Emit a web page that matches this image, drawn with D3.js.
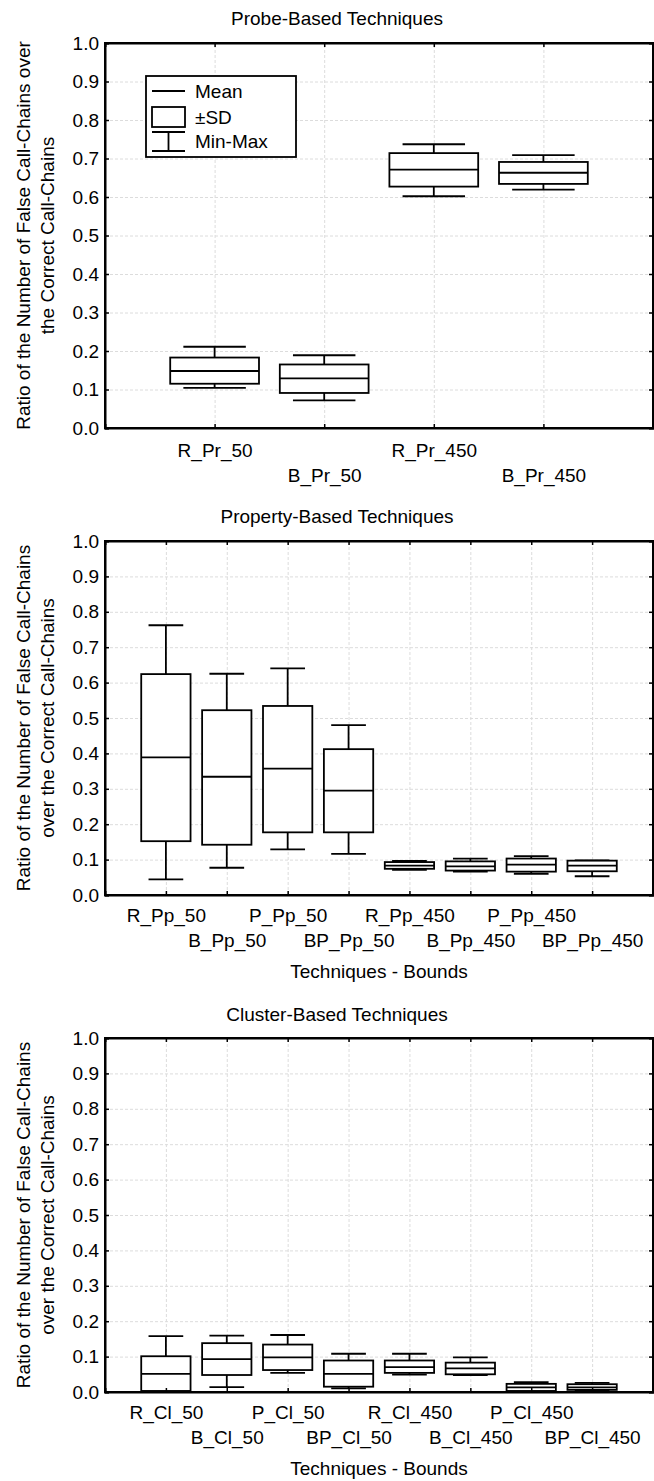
<!DOCTYPE html>
<html>
<head>
<meta charset="utf-8">
<script src="https://cdn.jsdelivr.net/npm/d3@7"></script>
<style>
  html, body { margin: 0; padding: 0; background: #fff; }
  svg text { font-family: "Liberation Sans", Arial, sans-serif; fill: #000; }
</style>
</head>
<body>
<svg id="chart" width="654" height="1481"></svg>
<script>
// ---------- data ----------
const yTickValues = [0, 0.1, 0.2, 0.3, 0.4, 0.5, 0.6, 0.7, 0.8, 0.9, 1.0];
const yTickLabels = ["0.0","0.1","0.2","0.3","0.4","0.5","0.6","0.7","0.8","0.9","1.0"];

const probeCats  = ["R_Pr_50", "B_Pr_50", "R_Pr_450", "B_Pr_450"];
const probeMean  = [0.148, 0.129, 0.671, 0.663];
const probeSdLo  = [0.115, 0.091, 0.627, 0.634];
const probeSdHi  = [0.183, 0.165, 0.714, 0.691];
const probeMin   = [0.104, 0.072, 0.602, 0.619];
const probeMax   = [0.211, 0.189, 0.737, 0.709];

const propCats = ["R_Pp_50", "B_Pp_50", "P_Pp_50", "BP_Pp_50", "R_Pp_450", "B_Pp_450", "P_Pp_450", "BP_Pp_450"];
const propMean = [0.389, 0.334, 0.357, 0.295, 0.083, 0.081, 0.086, 0.083];
const propSdLo = [0.152, 0.142, 0.177, 0.177, 0.074, 0.069, 0.066, 0.067];
const propSdHi = [0.624, 0.522, 0.534, 0.412, 0.093, 0.095, 0.103, 0.097];
const propMin  = [0.044, 0.077, 0.129, 0.116, 0.071, 0.066, 0.060, 0.053];
const propMax  = [0.762, 0.625, 0.640, 0.480, 0.096, 0.103, 0.110, 0.098];

const clusCats = ["R_Cl_50", "B_Cl_50", "P_Cl_50", "BP_Cl_50", "R_Cl_450", "B_Cl_450", "P_Cl_450", "BP_Cl_450"];
const clusMean = [0.051, 0.093, 0.098, 0.051, 0.070, 0.067, 0.013, 0.013];
const clusSdLo = [0.003, 0.048, 0.062, 0.015, 0.054, 0.050, 0.003, 0.006];
const clusSdHi = [0.101, 0.138, 0.134, 0.089, 0.089, 0.083, 0.023, 0.022];
const clusMin  = [0.001, 0.014, 0.054, 0.010, 0.049, 0.048, 0.002, 0.004];
const clusMax  = [0.158, 0.159, 0.161, 0.108, 0.108, 0.098, 0.028, 0.026];

const panelTitles = ["Probe-Based Techniques", "Property-Based Techniques", "Cluster-Based Techniques"];
const yTitles = [
  ["Ratio of the Number of False Call-Chains over", "the Correct Call-Chains"],
  ["Ratio of the Number of False Call-Chains", "over the Correct Call-Chains"],
  ["Ratio of the Number of False Call-Chains", "over the Correct Call-Chains"]
];
const xTitle = "Techniques - Bounds";
const legendLabels = ["Mean", "\u00B1SD", "Min-Max"];

// ---------- layout ----------
const FONT = 19;
const plotLeft = 105, plotRight = 653;
const panels = [
  { cats: probeCats, mean: probeMean, lo: probeSdLo, hi: probeSdHi, mn: probeMin, mx: probeMax,
    top: 43, bottom: 428, titleY: 25, row1: 457, row2: 482, xTitleY: null, legend: true },
  { cats: propCats, mean: propMean, lo: propSdLo, hi: propSdHi, mn: propMin, mx: propMax,
    top: 541, bottom: 895, titleY: 523, row1: 922, row2: 947, xTitleY: 978, legend: false },
  { cats: clusCats, mean: clusMean, lo: clusSdLo, hi: clusSdHi, mn: clusMin, mx: clusMax,
    top: 1038, bottom: 1392, titleY: 1021, row1: 1419, row2: 1444, xTitleY: 1475, legend: false }
];

const svg = d3.select("#chart");

panels.forEach((p, pi) => {
  const g = svg.append("g");
  const x = d3.scalePoint().domain(p.cats).range([plotLeft, plotRight]).padding(1);
  const y = d3.scaleLinear().domain([0, 1]).range([p.bottom, p.top]);
  const step = x.step();
  const boxW = step * 0.81;
  const capW = step * 0.57;

  // grid
  g.append("g")
    .attr("transform", `translate(${plotLeft},0)`)
    .call(d3.axisLeft(y).tickValues(yTickValues).tickSize(-(plotRight - plotLeft)).tickFormat(""))
    .call(s => s.select(".domain").remove())
    .call(s => s.selectAll("line").attr("stroke", "#dcdcdc").attr("stroke-dasharray", "3,2").attr("stroke-width", 1));
  g.append("g")
    .attr("transform", `translate(0,${p.bottom})`)
    .call(d3.axisBottom(x).tickSize(-(p.bottom - p.top)).tickFormat(""))
    .call(s => s.select(".domain").remove())
    .call(s => s.selectAll("line").attr("stroke", "#dcdcdc").attr("stroke-dasharray", "3,2").attr("stroke-width", 1));

  // boxes
  const data = p.cats.map((c, i) => ({ c, mean: p.mean[i], lo: p.lo[i], hi: p.hi[i], mn: p.mn[i], mx: p.mx[i] }));
  const items = g.append("g").selectAll("g").data(data).join("g");
  items.append("line")
    .attr("x1", d => x(d.c)).attr("x2", d => x(d.c))
    .attr("y1", d => y(d.mx)).attr("y2", d => y(d.hi))
    .attr("stroke", "#000").attr("stroke-width", 1.8);
  items.append("line")
    .attr("x1", d => x(d.c)).attr("x2", d => x(d.c))
    .attr("y1", d => y(d.lo)).attr("y2", d => y(d.mn))
    .attr("stroke", "#000").attr("stroke-width", 1.8);
  items.append("line")
    .attr("x1", d => x(d.c) - capW / 2).attr("x2", d => x(d.c) + capW / 2)
    .attr("y1", d => y(d.mx)).attr("y2", d => y(d.mx))
    .attr("stroke", "#000").attr("stroke-width", 1.8);
  items.append("line")
    .attr("x1", d => x(d.c) - capW / 2).attr("x2", d => x(d.c) + capW / 2)
    .attr("y1", d => y(d.mn)).attr("y2", d => y(d.mn))
    .attr("stroke", "#000").attr("stroke-width", 1.8);
  items.append("rect")
    .attr("x", d => x(d.c) - boxW / 2).attr("width", boxW)
    .attr("y", d => y(d.hi)).attr("height", d => y(d.lo) - y(d.hi))
    .attr("fill", "#fff").attr("stroke", "#000").attr("stroke-width", 1.8);
  items.append("line")
    .attr("x1", d => x(d.c) - boxW / 2).attr("x2", d => x(d.c) + boxW / 2)
    .attr("y1", d => y(d.mean)).attr("y2", d => y(d.mean))
    .attr("stroke", "#000").attr("stroke-width", 1.8);

  // axes with inward ticks
  const left = g.append("g").attr("transform", `translate(${plotLeft},0)`)
    .call(d3.axisLeft(y).tickValues(yTickValues).tickSize(-4).tickPadding(6)
      .tickFormat((d, i) => yTickLabels[i]));
  left.selectAll("text").style("font-size", FONT + "px");
  g.append("g").attr("transform", `translate(${plotRight},0)`)
    .call(d3.axisRight(y).tickValues(yTickValues).tickSize(-4).tickFormat(""));
  g.append("g").attr("transform", `translate(0,${p.top})`)
    .call(d3.axisTop(x).tickSize(-4).tickFormat(""));
  const bottom = g.append("g").attr("transform", `translate(0,${p.bottom})`)
    .call(d3.axisBottom(x).tickSize(-4).tickFormat(d => d));
  bottom.selectAll("text")
    .style("font-size", FONT + "px")
    .attr("dy", null)
    .attr("y", (d, i) => (i % 2 === 0 ? p.row1 : p.row2) - p.bottom);
  svg.selectAll(".domain").attr("stroke-width", 2);
  g.selectAll(".tick line").filter(function () { return d3.select(this).attr("stroke-dasharray") == null; })
    .attr("stroke-width", 1.5);

  // frame
  g.append("rect")
    .attr("x", plotLeft).attr("y", p.top)
    .attr("width", plotRight - plotLeft).attr("height", p.bottom - p.top)
    .attr("fill", "none").attr("stroke", "#000").attr("stroke-width", 2);

  // titles
  g.append("text").attr("x", 337).attr("y", p.titleY).attr("text-anchor", "middle")
    .style("font-size", FONT + "px").text(panelTitles[pi]);
  if (p.xTitleY) {
    g.append("text").attr("x", (plotLeft + plotRight) / 2).attr("y", p.xTitleY).attr("text-anchor", "middle")
      .style("font-size", FONT + "px").text(xTitle);
  }
  const cy = (p.top + p.bottom) / 2;
  [30, 54].forEach((bx, li) => {
    g.append("text")
      .attr("transform", `translate(${bx},${cy}) rotate(-90)`)
      .attr("text-anchor", "middle")
      .style("font-size", FONT + "px")
      .text(yTitles[pi][li]);
  });

  // legend
  if (p.legend) {
    const lg = g.append("g");
    lg.append("rect").attr("x", 146).attr("y", 76).attr("width", 150).attr("height", 81)
      .attr("fill", "#fff").attr("stroke", "#000").attr("stroke-width", 1.8);
    const sx1 = 152, sx2 = 185, tx = 195;
    lg.append("line").attr("x1", sx1).attr("x2", sx2).attr("y1", 91).attr("y2", 91)
      .attr("stroke", "#000").attr("stroke-width", 1.8);
    lg.append("rect").attr("x", sx1).attr("y", 107).attr("width", sx2 - sx1).attr("height", 20)
      .attr("fill", "#fff").attr("stroke", "#000").attr("stroke-width", 1.8);
    lg.append("line").attr("x1", sx1).attr("x2", sx2).attr("y1", 132).attr("y2", 132)
      .attr("stroke", "#000").attr("stroke-width", 1.8);
    lg.append("line").attr("x1", sx1).attr("x2", sx2).attr("y1", 151).attr("y2", 151)
      .attr("stroke", "#000").attr("stroke-width", 1.8);
    lg.append("line").attr("x1", (sx1 + sx2) / 2).attr("x2", (sx1 + sx2) / 2).attr("y1", 132).attr("y2", 151)
      .attr("stroke", "#000").attr("stroke-width", 1.8);
    [98, 124, 148].forEach((ty, i) => {
      lg.append("text").attr("x", tx).attr("y", ty).style("font-size", FONT + "px").text(legendLabels[i]);
    });
  }
});
</script>
</body>
</html>
